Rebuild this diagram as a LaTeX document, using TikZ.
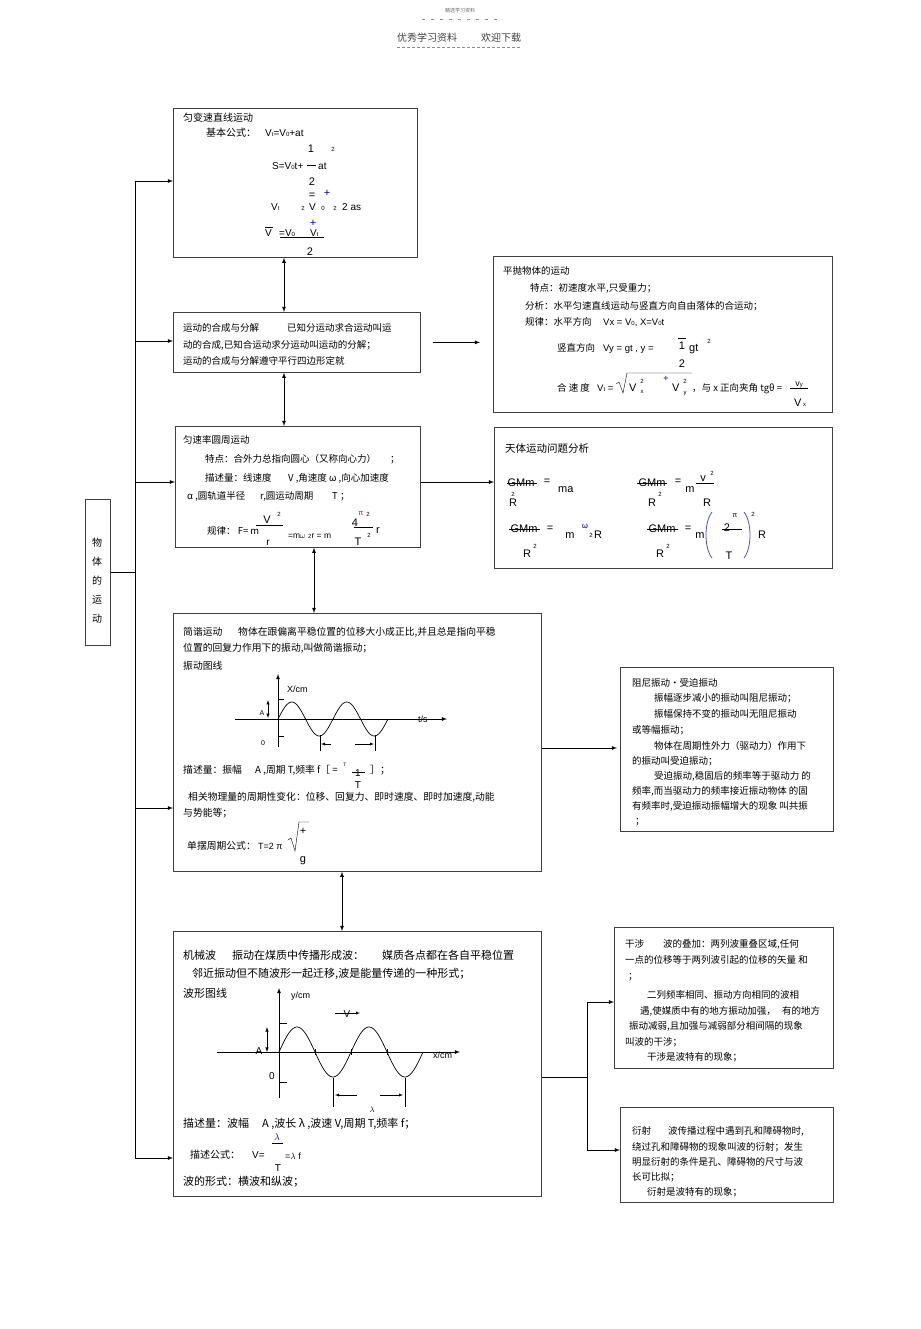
\documentclass[tikz,border=0pt]{standalone}
\usepackage{fontspec}
\setmainfont{Noto Sans CJK SC}
\newfontfamily\lat{Liberation Sans}
\usetikzlibrary{positioning}
\newcommand{\lowtx}[1]{{\fontsize{6}{7}\selectfont #1}}

\tikzset{
  box/.style={draw=black!75, line width=0.7pt, anchor=north west, inner sep=0pt},
  txt/.style={anchor=base west, inner sep=0pt, font=\fontsize{9.5}{11}\selectfont},
  big/.style={anchor=base west, inner sep=0pt, font=\fontsize{11}{13}\selectfont},
  frm/.style={anchor=base, inner sep=0pt, font=\lat\fontsize{11}{13}\selectfont},
  frml/.style={anchor=base west, inner sep=0pt, font=\lat\fontsize{10}{12}\selectfont},
  sml/.style={anchor=base, inner sep=0pt, font=\lat\fontsize{6}{7}\selectfont},
  link/.style={-latex, line width=0.8pt},
  twoway/.style={latex-latex, line width=0.8pt},
}

\begin{document}
\begin{tikzpicture}[x=1pt, y=-1pt]
\useasboundingbox (0,0) rectangle (920,1329);

% header
\node[anchor=center, inner sep=0pt, font=\fontsize{5}{6}\selectfont, text=black!60] (top) at (460,11) {精选学习资料};
\draw[black!45, dash pattern=on 3pt off 6pt] (422,19) -- (498,19);
\node[anchor=base west, inner sep=0pt, font=\fontsize{10}{12}\selectfont, text=black!75] (head1) at (397,42) {优秀学习资料};
\node[anchor=base west, inner sep=0pt, font=\fontsize{10}{12}\selectfont, text=black!75] (head2) at (481,42) {欢迎下载};
\draw[black!45, dash pattern=on 3pt off 2pt] (397,47) -- (521,47);

% boxes
\node[box, minimum width=25pt, minimum height=146pt] (body) at (85,499) {};
\node[box, minimum width=244pt, minimum height=149pt] (linear) at (173,108) {};
\node[box, minimum width=247pt, minimum height=60pt] (compose) at (173,312) {};
\node[box, minimum width=339pt, minimum height=156pt] (projectile) at (493,256) {};
\node[box, minimum width=245pt, minimum height=121pt] (circular) at (175,426) {};
\node[box, minimum width=338pt, minimum height=141pt] (celestial) at (494,427) {};
\node[box, minimum width=368pt, minimum height=258pt] (shm) at (173,613) {};
\node[box, minimum width=213pt, minimum height=164pt] (damped) at (620,667) {};
\node[box, minimum width=368pt, minimum height=265pt] (wave) at (173,931) {};
\node[box, minimum width=219pt, minimum height=141pt] (interf) at (614,927) {};
\node[box, minimum width=213pt, minimum height=95pt] (diffr) at (620,1107) {};

% left title
\foreach \ch/\y [count=\i] in {物/543, 体/562, 的/581, 运/600, 动/619}
  \node[inner sep=0pt, font=\fontsize{10}{12}\selectfont] (bt\i) at (97,\y) {\ch};

% trunk and branches
\coordinate (ttop) at (135,181);
\coordinate (tbot) at (135,1158);
\coordinate (tmid) at (135,572);
\draw[line width=0.8pt] (ttop) -- (tbot);
\draw[line width=0.8pt] (tmid -| body.east) -- (tmid);
\foreach \y/\tgt in {181/linear, 341/compose, 482/circular, 808/shm, 1158/wave} {
  \coordinate (tr) at (135,\y);
  \draw[link] (tr) -- (tr -| \tgt.west);
}

% links between boxes
\coordinate (v1) at (284,0);
\coordinate (v2) at (314,0);
\coordinate (v3) at (342,0);
\draw[twoway] (linear.south -| v1) -- (compose.north -| v1);
\draw[twoway] (compose.south -| v1) -- (circular.north -| v1);
\draw[twoway] (circular.south -| v2) -- (shm.north -| v2);
\draw[twoway] (shm.south -| v3) -- (wave.north -| v3);
\draw[link, shorten <=12pt, shorten >=13pt] (compose.east) -- (compose.east -| projectile.west);
\coordinate (h2) at (0,482);
\draw[link] (circular.east |- h2) -- (celestial.west |- h2);
\coordinate (h3) at (0,748);
\draw[link, shorten >=3pt] (shm.east |- h3) -- (damped.west |- h3);
\coordinate (fork) at (587,1077);
\coordinate (forkA) at (587,1002);
\coordinate (forkB) at (587,1150);
\draw[line width=0.8pt] (wave.east |- fork) -- (fork);
\draw[line width=0.8pt] (forkA) -- (forkB);
\draw[link] (forkA) -- (forkA -| interf.west);
\draw[link] (forkB) -- (forkB -| diffr.west);

% 匀变速直线运动
\node[txt, font=\fontsize{10}{12}\selectfont] (linT) at (183,122) {匀变速直线运动};
\node[txt, font=\fontsize{10}{12}\selectfont] (lin1) at (206,137) {基本公式：};
\node[frml] (lin2) at (265,137) {V\lowtx{t}=V\lowtx{0}+at};
\node[frm] (lin3) at (311,153) {1};
\node[sml] (lin4) at (333,152) {2};
\node[frml] (lin5) at (272,170) {S=V\lowtx{0}t+};
\draw (307,165) -- (316,165);
\node[frml] (lin6) at (318,170) {at};
\node[frm] (lin7) at (312,186) {2};
\node[frm] (lin8) at (312,199) {=};
\node[frm, text=blue!70!black] (lin9) at (327,197) {+};
\node[frml] (lin10) at (271,211) {V\lowtx{t}};
\node[sml] (lin11) at (303,211) {2};
\node[frml] (lin12) at (309,211) {V};
\node[sml] (lin13) at (323,211) {0};
\node[sml] (lin14) at (335,211) {2};
\node[frml] (lin15) at (342,211) {2 as};
\node[frm, text=blue!70!black] (lin16) at (313,227) {+};
\node[frml] (lin17) at (265,237) {V};
\draw (265,227) -- (273,227);
\node[frml] (lin18) at (279,237) {=V\lowtx{0}};
\node[frml] (lin19) at (310,237) {V\lowtx{t}};
\draw (280,237.5) -- (324,237.5);
\node[frm] (lin20) at (310,256) {2};

% 运动的合成与分解
\node[txt] (cmp1) at (183,331) {运动的合成与分解};
\node[txt] (cmp2) at (287,331) {已知分运动求合运动叫运};
\node[txt] (cmp3) at (183,348) {动的合成,已知合运动求分运动叫运动的分解；};
\node[txt] (cmp4) at (183,364) {运动的合成与分解遵守平行四边形定就};

% 平抛物体的运动
\node[txt] (prj1) at (503,275) {平抛物体的运动};
\node[txt] (prj2) at (530,291) {特点：初速度水平,只受重力；};
\node[txt] (prj3) at (525,309) {分析：水平匀速直线运动与竖直方向自由落体的合运动；};
\node[txt] (prj4) at (525,325) {规律：水平方向};
\node[frml, font=\lat\fontsize{9.5}{11}\selectfont] (prj5) at (603,325) {Vx = V\lowtx{0}, X=V\lowtx{0}t};
\node[txt] (prj6) at (557,351) {竖直方向};
\node[frml, font=\lat\fontsize{9.5}{11}\selectfont] (prj7) at (603,351) {Vy = gt , y =};
\node[frm] (prj8) at (682,349) {1};
\draw (678,338) -- (686,338);
\node[frm] (prj9) at (682,367) {2};
\node[frml, font=\lat\fontsize{11}{13}\selectfont] (prj10) at (689,351) {gt};
\node[sml] (prj11) at (709,343) {2};
\node[txt] (prj12) at (557,391) {合 速 度};
\node[frml, font=\lat\fontsize{9.5}{11}\selectfont] (prj13) at (597,391) {V\lowtx{t} =};
\draw (616,384) -- (619,382) -- (623,393) -- (627,373) -- (692,373);
\node[frml, font=\lat\fontsize{11}{13}\selectfont] (prj14) at (629,391) {V};
\node[sml] (prj15) at (642,393) {x};
\node[sml] (prj16) at (642,383) {2};
\node[frm, font=\lat\fontsize{9}{11}\selectfont, text=blue!70!black] (prj17) at (666,381) {+};
\node[frml, font=\lat\fontsize{11}{13}\selectfont] (prj18) at (672,391) {V};
\node[sml] (prj19) at (685,394) {y};
\node[sml] (prj20) at (685,383) {2};
\node[txt] (prj21) at (692,391) {，与 x 正向夹角 tgθ =};
\node[frm, font=\lat\fontsize{9}{11}\selectfont] (prj22) at (799,386) {v\lowtx{y}};
\draw (790,388) -- (808,388);
\node[frm] (prj23) at (800,406) {V\lowtx{ x}};

% 匀速率圆周运动
\node[txt] (cir1) at (183,443) {匀速率圆周运动};
\node[txt] (cir2) at (205,462) {特点：合外力总指向圆心（又称向心力）};
\node[txt] (cir3) at (390,462) {；};
\node[txt] (cir4) at (205,481) {描述量：线速度};
\node[txt] (cir5) at (288,481) {V ,角速度 ω ,向心加速度};
\node[txt] (cir6) at (187,499) {α ,圆轨道半径};
\node[txt] (cir7) at (260,499) {r,圆运动周期};
\node[txt] (cir8) at (332,499) {T ；};
\node[txt] (cir9) at (207,534) {规律： F= m};
\node[frm] (cir10) at (267,523) {V};
\node[sml] (cir11) at (279,516) {2};
\draw (256,525) -- (283,525);
\node[frm, font=\lat\fontsize{10}{12}\selectfont] (cir12) at (268,545) {r};
\node[frml, font=\lat\fontsize{8.5}{10}\selectfont] (cir13) at (288,538) {=m$\omega$ \lowtx{2}r = m};
\node[frm] (cir14) at (355,526) {4};
\node[sml, font=\fontsize{7}{8}\selectfont, text=red!70!black] (cir15) at (361,515) {π};
\node[sml] (cir16) at (368,516) {2};
\draw (354,527) -- (373,527);
\node[frm] (cir17) at (358,545) {T};
\node[sml] (cir18) at (369,537) {2};
\node[frm] (cir19) at (378,533) {r};

% 天体运动问题分析
\node[txt, font=\fontsize{10.5}{12}\selectfont] (cel1) at (505,452) {天体运动问题分析};
\node[frm] (cel2) at (521,486) {GMm};
\draw (507,483) -- (537,483);
\node[frm] (cel3) at (547,484) {=};
\node[frml, font=\lat\fontsize{11}{13}\selectfont] (cel4) at (558,492) {ma};
\node[frm] (cel5) at (513,506) {R};
\node[sml] (cel6) at (513,496) {2};
\node[frm] (cel7) at (652,486) {GMm};
\draw (637,483) -- (667,483);
\node[frm] (cel8) at (678,484) {=};
\node[frm] (cel9) at (690,492) {m};
\node[frm] (cel10) at (703,481) {v};
\node[sml] (cel11) at (712,475) {2};
\draw (696,483) -- (714,483);
\node[frm] (cel12) at (707,506) {R};
\node[frm] (cel13) at (652,506) {R};
\node[sml] (cel14) at (660,496) {2};
\node[frm] (cel15) at (524,532) {GMm};
\draw (509,529) -- (540,529);
\node[frm] (cel16) at (550,531) {=};
\node[frm] (cel17) at (570,538) {m};
\node[sml, font=\fontsize{8}{9}\selectfont, text=blue!70!black] (cel18) at (585,528) {ω};
\node[sml] (cel19) at (591,537) {2};
\node[frml, font=\lat\fontsize{11}{13}\selectfont] (cel20) at (594,538) {R};
\node[frm] (cel21) at (527,557) {R};
\node[sml] (cel22) at (535,548) {2};
\node[frm] (cel23) at (662,532) {GMm};
\draw (647,529) -- (678,529);
\node[frm] (cel24) at (688,531) {=};
\node[frm] (cel25) at (700,538) {m};
\draw[blue!35!gray, line width=0.8pt] (712,512) .. controls (704,522) and (704,548) .. (712,558);
\draw[blue!35!gray, line width=0.8pt] (744,512) .. controls (752,522) and (752,548) .. (744,558);
\node[frm] (cel26) at (727,531) {2};
\node[sml, font=\fontsize{7}{8}\selectfont] (cel27) at (735,517) {π};
\draw (722,529) -- (742,529);
\node[frm] (cel28) at (729,559) {T};
\node[sml] (cel29) at (753,516) {2};
\node[frml, font=\lat\fontsize{11}{13}\selectfont] (cel30) at (758,538) {R};
\node[frm] (cel31) at (660,557) {R};
\node[sml] (cel32) at (668,548) {2};

% 简谐运动
\node[txt, font=\fontsize{9.8}{11}\selectfont] (sh1) at (183,635) {简谐运动};
\node[txt, font=\fontsize{9.8}{11}\selectfont] (sh2) at (238,635) {物体在跟偏离平稳位置的位移大小成正比,并且总是指向平稳};
\node[txt, font=\fontsize{9.8}{11}\selectfont] (sh3) at (183,651) {位置的回复力作用下的振动,叫做简谐振动；};
\node[txt, font=\fontsize{9.8}{11}\selectfont] (sh4) at (183,669) {振动图线};
\draw[-latex, line width=0.8pt] (278,747) -- (278,674);
\draw[-latex, line width=0.8pt] (235,719) -- (447,719);
\draw[line width=0.7pt] plot[domain=0:110, samples=100, smooth] ({278+\x},{719-17*sin(\x/55*360)});
\draw (278,699) -- (284,699);
\draw (278,736) -- (284,736);
\draw[latex-latex, line width=0.5pt] (268,700) -- (268,718);
\node[sml, font=\lat\fontsize{7}{8}\selectfont] (sh5) at (262,715) {A};
\node[sml, font=\lat\fontsize{7}{8}\selectfont] (sh6) at (263,745) {0};
\node[frml, font=\lat\fontsize{9}{10}\selectfont] (sh7) at (287,692) {X/cm};
\node[frml, font=\lat\fontsize{9}{10}\selectfont] (sh8) at (418,722) {t/s};
\draw (320,735) -- (320,751);
\draw (375,735) -- (375,751);
\draw[-latex] (331,744) -- (321,744);
\draw[-latex] (355,744) -- (374,744);
\node[txt, font=\fontsize{9.8}{11}\selectfont] (sh9) at (183,773) {描述量：振幅};
\node[txt, font=\fontsize{9.8}{11}\selectfont] (sh10) at (255,773) {A ,周期 T,频率 f［ =};
\node[sml, font=\lat\fontsize{5}{6}\selectfont] (sh11) at (345,766) {T};
\node[frm, font=\lat\fontsize{10}{12}\selectfont] (sh12) at (358,776) {1};
\draw (352,772) -- (365,772);
\node[frm, font=\lat\fontsize{10}{12}\selectfont] (sh13) at (358,788) {T};
\node[txt, font=\fontsize{9.8}{11}\selectfont] (sh14) at (370,773) {］；};
\node[txt, font=\fontsize{9.8}{11}\selectfont] (sh15) at (188,800) {相关物理量的周期性变化：位移、回复力、即时速度、即时加速度,动能};
\node[txt, font=\fontsize{9.8}{11}\selectfont] (sh16) at (183,816) {与势能等；};
\node[txt, font=\fontsize{9.8}{11}\selectfont] (sh17) at (187,849) {单摆周期公式：};
\node[frml, font=\lat\fontsize{9}{10}\selectfont] (sh18) at (258,849) {T=2 π};
\draw (288,840) -- (291,838) -- (295,851) -- (299,822) -- (309,822);
\node[frm] (sh19) at (303,834) {+};
\node[frm] (sh20) at (303,862) {g};

% 阻尼振动
\foreach \x/\y/\t [count=\i] in {632/686/{阻尼振动・受迫振动},
    654/701/{振幅逐步减小的振动叫阻尼振动；},
    654/717/{振幅保持不变的振动叫无阻尼振动},
    632/733/{或等幅振动；},
    654/749/{物体在周期性外力（驱动力）作用下},
    632/764/{的振动叫受迫振动；},
    654/779/{受迫振动,稳固后的频率等于驱动力 的},
    632/794/{频率,而当驱动力的频率接近振动物体 的固},
    632/809/{有频率时,受迫振动振幅增大的现象 叫共振},
    635/824/{；}}
  \node[txt] (dm\i) at (\x,\y) {\t};

% 机械波
\node[big] (wv1) at (183,959) {机械波};
\node[big] (wv2) at (232,959) {振动在煤质中传播形成波：};
\node[big] (wv3) at (382,959) {媒质各点都在各自平稳位置};
\node[big] (wv4) at (192,977) {邻近振动但不随波形一起迁移,波是能量传递的一种形式；};
\node[big] (wv5) at (183,997) {波形图线};
\draw[-latex, line width=0.8pt] (279,1098) -- (279,988);
\draw[-latex, line width=0.8pt] (217,1052) -- (460,1052);
\draw[line width=0.7pt] plot[domain=0:144, samples=120, smooth] ({279+\x},{1052-25*sin(\x/72*360)});
\draw (279,1023) -- (287,1023);
\draw (279,1082) -- (287,1082);
\foreach \zx in {315,351,387}
  \draw (\zx,1049) -- (\zx,1055);
\draw[latex-latex, line width=0.6pt] (267,1027) -- (267,1052);
\node[frm, font=\lat\fontsize{10}{12}\selectfont] (wv6) at (259,1054) {A};
\node[frm, font=\lat\fontsize{10}{12}\selectfont] (wv7) at (272,1079) {0};
\node[frml, font=\lat\fontsize{9}{10}\selectfont] (wv8) at (291,998) {y/cm};
\node[frml, font=\lat\fontsize{9}{10}\selectfont] (wv9) at (433,1058) {x/cm};
\draw[-latex] (335,1013) -- (360,1013);
\node[frm, font=\lat\fontsize{10}{12}\selectfont] (wv10) at (347,1017) {V};
\draw (333,1078) -- (333,1107);
\draw (405,1078) -- (405,1107);
\draw[-latex] (357,1095) -- (335,1095);
\draw[-latex] (380,1095) -- (403,1095);
\node[frm, font=\lat\fontsize{8}{9}\selectfont] (wv11) at (372,1112) {$\lambda$};
\node[big] (wv12) at (183,1127) {描述量：波幅};
\node[big] (wv13) at (262,1127) {A ,波长 λ ,波速 V,周期 T,频率 f；};
\node[big, font=\fontsize{10}{12}\selectfont] (wv14) at (190,1158) {描述公式：};
\node[frml, font=\lat\fontsize{10}{12}\selectfont] (wv14b) at (252,1158) {V=};
\node[frm, font=\lat\fontsize{10}{12}\selectfont, text=blue!50!black] (wv15) at (277,1140) {$\lambda$};
\draw (272,1143) -- (283,1143);
\node[frm, font=\lat\fontsize{10}{12}\selectfont] (wv16) at (278,1171) {T};
\node[frml, font=\lat\fontsize{9}{10}\selectfont] (wv17) at (285,1159) {=$\lambda$ f};
\node[big] (wv18) at (183,1185) {波的形式：横波和纵波；};

% 干涉
\node[txt] (in1) at (625,947) {干涉};
\node[txt] (in2) at (663,947) {波的叠加：两列波重叠区域,任何};
\node[txt] (in3) at (625,963) {一点的位移等于两列波引起的位移的矢量 和};
\node[txt] (in4) at (628,979) {；};
\node[txt] (in5) at (647,998) {二列频率相同、振动方向相同的波相};
\node[txt] (in6) at (640,1014) {遇,使媒质中有的地方振动加强，};
\node[txt] (in7) at (782,1014) {有的地方};
\node[txt] (in8) at (629,1029) {振动减弱,且加强与减弱部分相间隔的现象};
\node[txt] (in9) at (625,1045) {叫波的干涉；};
\node[txt] (in10) at (647,1060) {干涉是波特有的现象；};

% 衍射
\node[txt] (df1) at (632,1134) {衍射};
\node[txt] (df2) at (668,1134) {波传播过程中遇到孔和障碍物时,};
\node[txt] (df3) at (632,1150) {绕过孔和障碍物的现象叫波的衍射；发生};
\node[txt] (df4) at (632,1165) {明显衍射的条件是孔、障碍物的尺寸与波};
\node[txt] (df5) at (632,1180) {长可比拟；};
\node[txt] (df6) at (647,1195) {衍射是波特有的现象；};
\end{tikzpicture}
\end{document}
